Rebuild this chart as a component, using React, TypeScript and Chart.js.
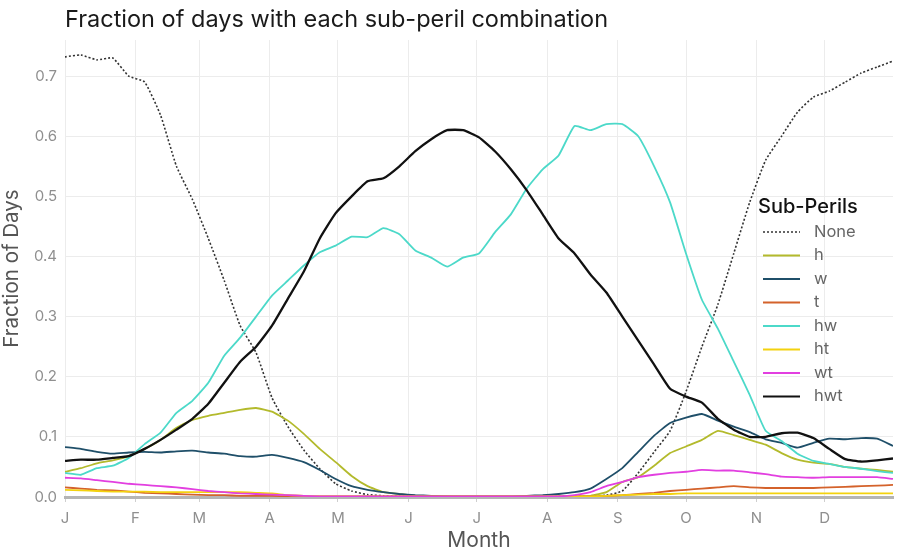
import React, { useEffect, useRef } from "react";
import { Chart, registerables } from "chart.js";

Chart.register(...registerables);

const DAYS = [0, 7, 14, 21, 28, 35, 42, 49, 56, 63, 70, 77, 84, 91, 98, 105, 112, 119, 126, 133, 140, 147, 154, 161, 168, 175, 182, 189, 196, 203, 210, 217, 224, 231, 238, 245, 252, 259, 266, 273, 280, 287, 294, 301, 308, 315, 322, 329, 336, 343, 350, 357, 364];

const MONTH_DAYS = [0, 31, 59, 90, 120, 151, 181, 212, 243, 273, 304, 334];
const MONTH_LABELS = ["J", "F", "M", "A", "M", "J", "J", "A", "S", "O", "N", "D"];
const Y_TICKS = [0, 0.1, 0.2, 0.3, 0.4, 0.5, 0.6, 0.7];

const NONE = [0.732, 0.735, 0.727, 0.73, 0.7, 0.69, 0.635, 0.55, 0.495, 0.43, 0.36, 0.285, 0.24, 0.165, 0.117, 0.078, 0.047, 0.022, 0.01, 0.004, 0.002, 0.001, 0.001, 0.0, 0.0, 0.0, 0.0, 0.0, 0.0, 0.0, 0.0, 0.001, 0.001, 0.001, 0.003, 0.01, 0.04, 0.075, 0.11, 0.175, 0.25, 0.32, 0.405, 0.49, 0.56, 0.6, 0.64, 0.665, 0.675, 0.69, 0.705, 0.715, 0.725];
const H = [0.042, 0.048, 0.056, 0.061, 0.068, 0.08, 0.095, 0.115, 0.128, 0.135, 0.14, 0.145, 0.148, 0.142, 0.127, 0.105, 0.08, 0.058, 0.035, 0.018, 0.008, 0.005, 0.002, 0.001, 0.001, 0.0, 0.0, 0.0, 0.0, 0.0, 0.0, 0.0, 0.001, 0.002, 0.008, 0.025, 0.033, 0.052, 0.073, 0.084, 0.095, 0.11, 0.103, 0.095, 0.087, 0.073, 0.062, 0.057, 0.055, 0.05, 0.047, 0.045, 0.042];
const W = [0.083, 0.08, 0.075, 0.072, 0.074, 0.075, 0.074, 0.076, 0.077, 0.074, 0.072, 0.068, 0.067, 0.07, 0.065, 0.058, 0.045, 0.03, 0.018, 0.012, 0.008, 0.005, 0.003, 0.002, 0.001, 0.001, 0.001, 0.001, 0.001, 0.002, 0.003, 0.005, 0.008, 0.014, 0.03, 0.048, 0.075, 0.102, 0.123, 0.132, 0.138, 0.127, 0.117, 0.108, 0.096, 0.09, 0.082, 0.09, 0.097, 0.096, 0.098, 0.097, 0.085];
const T = [0.016, 0.014, 0.012, 0.011, 0.009, 0.007, 0.006, 0.005, 0.004, 0.003, 0.003, 0.002, 0.002, 0.002, 0.001, 0.001, 0.001, 0.001, 0.001, 0.001, 0.001, 0.001, 0.001, 0.001, 0.001, 0.001, 0.001, 0.001, 0.001, 0.001, 0.001, 0.001, 0.001, 0.001, 0.002, 0.003, 0.005, 0.007, 0.01, 0.012, 0.014, 0.016, 0.018, 0.016, 0.015, 0.015, 0.015, 0.015, 0.016, 0.017, 0.018, 0.019, 0.02];
const HW = [0.04, 0.037, 0.048, 0.052, 0.065, 0.088, 0.107, 0.14, 0.16, 0.19, 0.235, 0.265, 0.3, 0.335, 0.36, 0.385, 0.407, 0.418, 0.433, 0.432, 0.447, 0.437, 0.41, 0.398, 0.383, 0.398, 0.405, 0.44, 0.47, 0.513, 0.545, 0.568, 0.617, 0.61, 0.62, 0.62, 0.6, 0.55, 0.49, 0.405, 0.328, 0.28, 0.225, 0.17, 0.11, 0.093, 0.072, 0.06, 0.055, 0.05, 0.047, 0.043, 0.04];
const HT = [0.012, 0.011, 0.01, 0.009, 0.009, 0.009, 0.008, 0.008, 0.008, 0.008, 0.008, 0.008, 0.007, 0.006, 0.003, 0.002, 0.001, 0.001, 0.001, 0.001, 0.001, 0.001, 0.001, 0.001, 0.001, 0.001, 0.001, 0.001, 0.001, 0.001, 0.001, 0.001, 0.001, 0.001, 0.002, 0.003, 0.004, 0.005, 0.005, 0.006, 0.006, 0.006, 0.006, 0.006, 0.006, 0.006, 0.006, 0.006, 0.006, 0.006, 0.006, 0.006, 0.006];
const WT = [0.032, 0.031, 0.028, 0.025, 0.022, 0.02, 0.018, 0.016, 0.013, 0.01, 0.008, 0.006, 0.005, 0.004, 0.003, 0.002, 0.001, 0.001, 0.001, 0.001, 0.001, 0.001, 0.001, 0.001, 0.001, 0.001, 0.001, 0.001, 0.001, 0.001, 0.001, 0.001, 0.003, 0.008, 0.018, 0.025, 0.033, 0.037, 0.04, 0.042, 0.045, 0.044, 0.044, 0.041, 0.038, 0.034, 0.033, 0.032, 0.033, 0.033, 0.033, 0.033, 0.03];
const HWT = [0.06, 0.062, 0.062, 0.065, 0.068, 0.08, 0.095, 0.112, 0.13, 0.155, 0.19, 0.225, 0.25, 0.285, 0.33, 0.375, 0.43, 0.472, 0.5, 0.525, 0.53, 0.55, 0.575, 0.595, 0.61, 0.61, 0.598, 0.575, 0.545, 0.51, 0.47, 0.43, 0.405, 0.37, 0.34, 0.3, 0.26, 0.22, 0.18, 0.167, 0.157, 0.13, 0.112, 0.1, 0.1, 0.106, 0.107, 0.098, 0.08, 0.063, 0.059, 0.061, 0.064];

const SERIES_LABELS = ["None", "h", "w", "t", "hw", "ht", "wt", "hwt"];
const SERIES_VALUES = [NONE, H, W, T, HW, HT, WT, HWT];
const SERIES_COLORS = ["#333333", "#b3ba2c", "#1f4f69", "#d4622b", "#4cd9c9", "#f3d20f", "#e23fe0", "#111111"];

const FONT = "Inter, 'Noto Sans', sans-serif";

const insideLegend = {
  id: "insideLegend",
  afterDatasetsDraw(chart: any, _args: any, opts: any) {
    const ctx = chart.ctx as CanvasRenderingContext2D;
    ctx.save();
    ctx.textBaseline = "middle";
    ctx.textAlign = "left";
    ctx.fillStyle = "#111";
    ctx.font = `500 20px ${FONT}`;
    ctx.fillText(opts.title, opts.titleX, opts.titleY);
    chart.data.datasets.forEach((ds: any, i: number) => {
      const y = opts.itemY + i * opts.spacing;
      ctx.beginPath();
      ctx.setLineDash(ds.borderDash || []);
      ctx.strokeStyle = ds.borderColor;
      ctx.lineWidth = ds.borderDash ? 1.6 : 2.2;
      ctx.moveTo(opts.lineX0, y);
      ctx.lineTo(opts.lineX1, y);
      ctx.stroke();
      ctx.setLineDash([]);
      ctx.fillStyle = "#666";
      ctx.font = `16.5px ${FONT}`;
      ctx.fillText(ds.label, opts.textX, y);
    });
    ctx.restore();
  },
};

export default function App() {
  const ref = useRef<HTMLCanvasElement | null>(null);

  useEffect(() => {
    document.body.style.margin = "0";
    if (!ref.current) return;
    const datasets = SERIES_LABELS.map((label, si) => ({
      label,
      data: DAYS.map((d, i) => ({ x: d, y: SERIES_VALUES[si][i] })),
      borderColor: SERIES_COLORS[si],
      backgroundColor: SERIES_COLORS[si],
      borderWidth: label === "None" ? 1.6 : label === "hwt" ? 2.3 : 1.8,
      borderDash: label === "None" ? [2, 2] : undefined,
      pointRadius: 0,
      tension: 0.15,
      fill: false,
      order: SERIES_LABELS.length - si,
    }));

    const chart = new Chart(ref.current, {
      type: "line",
      data: { datasets },
      plugins: [insideLegend],
      options: {
        animation: false,
        responsive: false,
        events: [],
        layout: { padding: { left: 0, right: 7, top: 0, bottom: 0 } },
        plugins: {
          legend: { display: false },
          tooltip: { enabled: false },
          title: {
            display: true,
            text: "Fraction of days with each sub-peril combination",
            align: "start",
            fullSize: false,
            color: "#1a1a1a",
            font: { family: FONT, size: 23.5, weight: "normal", lineHeight: 1.2 },
            padding: { top: 6, bottom: 5.8 },
          },
          insideLegend: {
            title: "Sub-Perils",
            titleX: 758,
            titleY: 207,
            itemY: 232,
            spacing: 23.5,
            lineX0: 763,
            lineX1: 800,
            textX: 814,
          },
        } as any,
        scales: {
          x: {
            type: "linear",
            min: 0,
            max: 364,
            afterBuildTicks: (scale: any) => {
              scale.ticks = MONTH_DAYS.map((v) => ({ value: v }));
            },
            afterFit: (scale: any) => {
              scale.height = 62;
            },
            ticks: {
              autoSkip: false,
              maxRotation: 0,
              padding: 7,
              color: "#8f8f8f",
              font: { family: FONT, size: 15 },
              callback: (_v: any, i: number) => MONTH_LABELS[i],
            },
            grid: { color: "#ececec", lineWidth: 1, drawTicks: true, tickLength: 5, tickColor: "#cfcfcf" },
            border: { display: true, color: "#b5b5b5", width: 3 },
            title: {
              display: true,
              text: "Month",
              color: "#555",
              font: { family: FONT, size: 21 },
              padding: { top: 4, bottom: 6 },
            },
          },
          y: {
            type: "linear",
            min: 0,
            max: 0.76,
            afterBuildTicks: (scale: any) => {
              scale.ticks = Y_TICKS.map((v) => ({ value: v }));
            },
            afterFit: (scale: any) => {
              scale.width = 65;
            },
            ticks: {
              padding: 8,
              color: "#8f8f8f",
              font: { family: FONT, size: 15 },
              callback: (v: any) => Number(v).toFixed(1),
            },
            grid: { color: "#ececec", lineWidth: 1, drawTicks: false },
            border: { display: false },
            title: {
              display: true,
              text: "Fraction of Days",
              color: "#555",
              font: { family: FONT, size: 20.5 },
              padding: { top: 0, bottom: 0 },
            },
          },
        },
      },
    });
    return () => chart.destroy();
  }, []);

  return (
    <div style={{ width: 900, height: 559, background: "#fff" }}>
      <canvas ref={ref} width={900} height={559} style={{ width: 900, height: 559, display: "block" }} />
    </div>
  );
}
